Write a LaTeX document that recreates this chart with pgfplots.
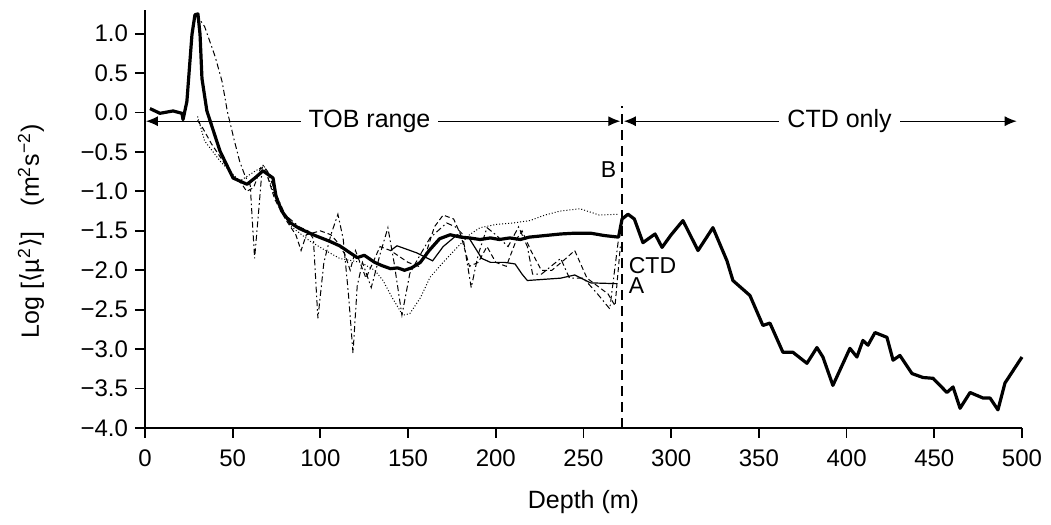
\documentclass[border=0pt]{standalone}
\usepackage{pgfplots}
\pgfplotsset{compat=1.18}
\usepackage{fontspec}
\setmainfont{Liberation Sans}
\newfontfamily\dejavu{DejaVu Sans}
\usetikzlibrary{arrows.meta}

\begin{document}
\begin{tikzpicture}
\begin{axis}[
  scale only axis,
  width=438.5pt, height=209pt,
  xmin=0, xmax=500, ymin=-4, ymax=1.3,
  axis lines*=left,
  axis line style={line width=0.9pt},
  tick align=outside,
  major tick length=5pt,
  tick style={line width=0.9pt, black},
  xtick={0,50,...,500},
  ytick={-4,-3.5,-3,-2.5,-2,-1.5,-1,-0.5,0,0.5,1},
  yticklabels={−4.0,−3.5,−3.0,−2.5,−2.0,−1.5,−1.0,−0.5,0.0,0.5,1.0},
  /pgf/number format/assume math mode=true,
  ticklabel style={font=\fontsize{12}{14}\selectfont},
  xticklabel style={yshift=-2.5pt},
  xlabel={Depth (m)},
  ylabel={Log [{\dejavu ⟨}µ\textsuperscript{2}{\dejavu ⟩}]\quad (m\textsuperscript{2}s\textsuperscript{−2})},
  label style={font=\fontsize{12.5}{15}\selectfont},
  xlabel style={yshift=-5pt},
  ylabel style={at={(axis description cs:-0.13,0.47)}, anchor=center},
  clip=false,
]
% B (dotted)
\addplot[black, line width=0.5pt, densely dotted] coordinates {
  (30,-0.05) (34,-0.36) (43,-0.62) (54,-0.87) (63,-0.74) (68,-0.68)
  (74,-1.06) (83,-1.44) (94,-1.63) (103,-1.75) (111,-1.85) (123,-1.90)
  (131,-2.00) (135.7,-2.13) (141,-2.35) (147,-2.57) (151,-2.55)
  (157,-2.35) (162.5,-2.09) (170,-1.90) (178,-1.71) (185,-1.55)
  (191,-1.46) (200,-1.42) (210,-1.40) (219.5,-1.37) (228,-1.30)
  (236.6,-1.25) (248,-1.22) (259,-1.30) (270,-1.29)
};
% dash-dot series
\addplot[black, line width=0.5pt, dash pattern=on 3pt off 1.5pt on 0.8pt off 1.5pt] coordinates {
  (29,1.25) (34,1.09) (40,0.71) (44,0.39) (47,0.01) (51,-0.36) (54,-0.62)
  (57,-0.80) (60,-0.92) (62.5,-1.85) (65,-1.20) (67,-0.66) (70,-0.75)
  (75,-1.05) (80,-1.30) (88,-1.45) (93,-1.50) (96,-1.60) (98.6,-2.61)
  (102,-1.90) (106,-1.55) (110,-1.29) (113,-1.60) (116,-2.30) (118.6,-3.05)
  (121,-2.20) (124,-1.90) (129,-2.22) (134,-1.80) (138.5,-1.46) (142,-1.90)
  (146.5,-2.57) (151,-2.04) (157,-1.80) (162.5,-1.59) (172,-1.40)
  (177,-1.45) (181,-1.54) (186,-2.22) (190,-1.80) (195,-1.46) (200,-1.55)
  (207,-1.70) (213,-1.45) (218,-1.70) (221,-2.05) (226,-2.05) (237,-1.85)
  (242,-2.10) (250,-2.10) (258,-2.30) (265,-2.49) (270,-1.60)
};
% dashed series
\addplot[black, line width=0.5pt, dash pattern=on 2.5pt off 1.5pt] coordinates {
  (30,-0.10) (33,-0.20) (38,-0.40) (44,-0.60) (50,-0.80) (55,-0.90)
  (58,-1.00) (62,-0.95) (66,-0.70) (69,-0.75) (74,-1.10) (80,-1.35)
  (86,-1.55) (89,-1.75) (92,-1.55) (100,-1.50) (106,-1.55) (110,-1.65)
  (114,-1.80) (117,-2.00) (120,-1.75) (126,-2.10) (131,-1.85) (134,-1.70)
  (140,-1.75) (150,-1.90) (156,-1.95) (160,-1.80) (165,-1.45) (170,-1.30)
  (176,-1.35) (180,-1.55) (185,-1.95) (190,-1.90) (195,-1.70) (200,-1.90)
  (206,-1.95) (212,-1.60) (215,-1.50) (220,-1.75) (226,-2.00) (232,-2.00)
  (240,-1.85) (245,-1.75) (252,-2.10) (258,-2.20) (264,-2.30) (268,-2.45)
  (271,-1.70)
};
% A (thin solid)
\addplot[black, line width=0.6pt] coordinates {
  (140,-1.75) (143.7,-1.69) (155,-1.78) (164,-1.88) (170,-1.70) (178,-1.55)
  (185,-1.60) (192,-1.85) (197,-1.90) (205,-1.90) (211,-1.92) (215,-2.05)
  (218,-2.13) (237,-2.10) (245,-2.06) (254,-2.16) (269,-2.17)
};
% CTD (thick)
\addplot[black, line width=1.6pt, line join=round] coordinates {
  (2.85,0.05) (8.55,-0.01) (16,0.02) (21.1,-0.01) (21.7,-0.09) (23.9,0.14)
  (26.8,0.99) (28.5,1.24) (30.2,1.25) (31.4,0.99) (32.5,0.43) (35.3,0.02)
  (42.8,-0.49) (50.2,-0.83) (58.2,-0.91) (62.7,-0.83) (67.3,-0.74) (73,-0.83)
  (74.7,-1.06) (78,-1.25) (83,-1.40) (88,-1.47) (97,-1.56) (105,-1.63)
  (111,-1.69) (117,-1.78) (121,-1.84) (125,-1.81) (131,-1.90) (135,-1.94)
  (140,-1.98) (144,-1.97) (148,-2.00) (152,-1.97) (157,-1.90) (162,-1.75)
  (168,-1.60) (174,-1.55) (180,-1.58) (185,-1.59) (191,-1.61) (197,-1.59)
  (202,-1.61) (208,-1.59) (214,-1.61) (219,-1.58) (228,-1.56) (237,-1.54)
  (245,-1.53) (254,-1.53) (262,-1.56) (270,-1.58) (272,-1.35) (275.4,-1.29)
  (279,-1.35) (283.9,-1.65) (290.8,-1.54) (294.8,-1.71) (300,-1.55)
  (306.7,-1.37) (315.3,-1.75) (323.8,-1.46) (331.8,-1.88) (335.2,-2.13)
  (344.9,-2.32) (352.3,-2.70) (356.3,-2.67) (363.7,-3.04) (369.4,-3.04)
  (377.4,-3.18) (383.1,-2.98) (386.5,-3.10) (392.2,-3.46) (401.9,-2.99)
  (405.9,-3.10) (409.3,-2.89) (412.2,-2.95) (416.2,-2.79) (423,-2.85)
  (426.5,-3.14) (430.4,-3.08) (437.3,-3.31) (443.6,-3.36) (449.3,-3.37)
  (457.2,-3.55) (460.7,-3.48) (464.7,-3.75) (470.4,-3.55) (477.8,-3.62)
  (481.8,-3.62) (486.3,-3.77) (490.3,-3.43) (500,-3.10)
};
% boundary between ranges and annotations
\draw[black, line width=0.8pt, dash pattern=on 5pt off 3pt] (axis cs:272,-4) -- (axis cs:272,0.08);
\draw[black, line width=0.6pt, {Latex[length=6pt,width=5pt]}-{Latex[length=6pt,width=5pt]}]
  (axis cs:0.5,-0.11) -- (axis cs:271,-0.11);
\draw[black, line width=0.6pt, {Latex[length=6pt,width=5pt]}-{Latex[length=6pt,width=5pt]}]
  (axis cs:273,-0.11) -- (axis cs:497,-0.11);
\node[fill=white, inner sep=4pt, font=\fontsize{12.5}{15}\selectfont] at (axis cs:128,-0.11) {TOB range};
\node[fill=white, inner sep=4pt, font=\fontsize{12.5}{15}\selectfont] at (axis cs:396,-0.11) {CTD only};
\node[anchor=east, inner sep=1pt, font=\fontsize{11.5}{14}\selectfont] at (axis cs:270,-0.72) {B};
\node[anchor=west, inner sep=1pt, font=\fontsize{11.5}{14}\selectfont] at (axis cs:274.5,-1.94) {CTD};
\node[anchor=west, inner sep=1pt, font=\fontsize{11.5}{14}\selectfont] at (axis cs:274.5,-2.20) {A};
\coordinate (bbl) at (axis description cs:-0.1653,-0.232);
\coordinate (btr) at (axis description cs:1.0331,1.0239);
\end{axis}
\pgfresetboundingbox
\path (bbl) rectangle (btr);
\end{tikzpicture}
\end{document}
